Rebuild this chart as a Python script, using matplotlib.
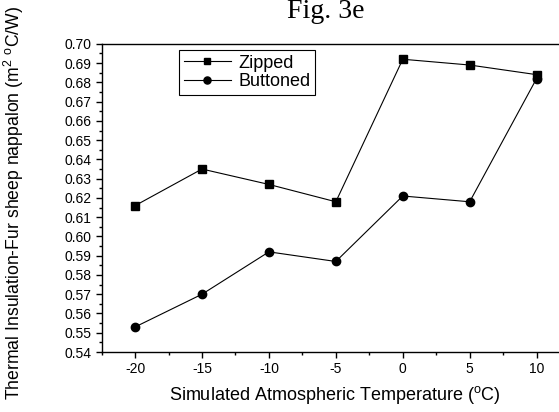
import matplotlib
matplotlib.use("Agg")
import matplotlib.pyplot as plt
from matplotlib.ticker import MultipleLocator, FormatStrFormatter

# data
temps = [-20, -15, -10, -5, 0, 5, 10]
zipped = [0.616, 0.635, 0.627, 0.618, 0.692, 0.689, 0.684]
buttoned = [0.553, 0.570, 0.592, 0.587, 0.621, 0.618, 0.682]

plt.rcParams['font.family'] = ['Liberation Sans', 'DejaVu Sans']
plt.rcParams['mathtext.default'] = 'regular'
plt.rcParams['axes.unicode_minus'] = False

fig = plt.figure(figsize=(5.59, 4.12), dpi=100)
ax = fig.add_axes([0.1818, 0.1456, 0.838, 0.748])

ax.plot(temps, zipped, '-s', color='black', lw=0.8, ms=5.5, label='Zipped')
ax.plot(temps, buttoned, '-o', color='black', lw=0.8, ms=6, label='Buttoned')

ax.set_xlim(-22.5, 12.5)
ax.set_ylim(0.54, 0.70)
ax.xaxis.set_major_locator(MultipleLocator(5))
ax.xaxis.set_minor_locator(MultipleLocator(2.5))
ax.yaxis.set_major_locator(MultipleLocator(0.01))
ax.yaxis.set_minor_locator(MultipleLocator(0.005))
ax.yaxis.set_major_formatter(FormatStrFormatter('%.2f'))
ax.tick_params(which='major', direction='out', length=4, width=1, labelsize=10)
ax.tick_params(which='minor', direction='out', length=2.5, width=1)
ax.spines['right'].set_visible(False)
for s in ax.spines.values():
    s.set_linewidth(1)

ax.set_xlabel('Simulated Atmospheric Temperature ($^{o}$C)', fontsize=13, va='center')
ax.xaxis.set_label_coords(0.498, -0.14)
ax.set_ylabel('Thermal Insulation-Fur sheep nappalon (m$^{2}$ $^{o}$C/W)', fontsize=12.7, va='center')
ax.yaxis.set_label_coords(-0.187, 0.483)

fig.text(325.5 / 559, 1 - 12 / 412, 'Fig. 3e', ha='center', va='center', fontsize=20,
         family='Liberation Serif')

leg = ax.legend(loc='upper left', bbox_to_anchor=(0.166, 0.98), borderaxespad=0,
                fancybox=False, framealpha=1, edgecolor='black', fontsize=13,
                numpoints=1, handlelength=2.6, handletextpad=0.4, borderpad=0.25,
                labelspacing=0.1, markerscale=0.85)
leg.get_frame().set_linewidth(0.8)

fig.savefig('out.png', dpi=100)
